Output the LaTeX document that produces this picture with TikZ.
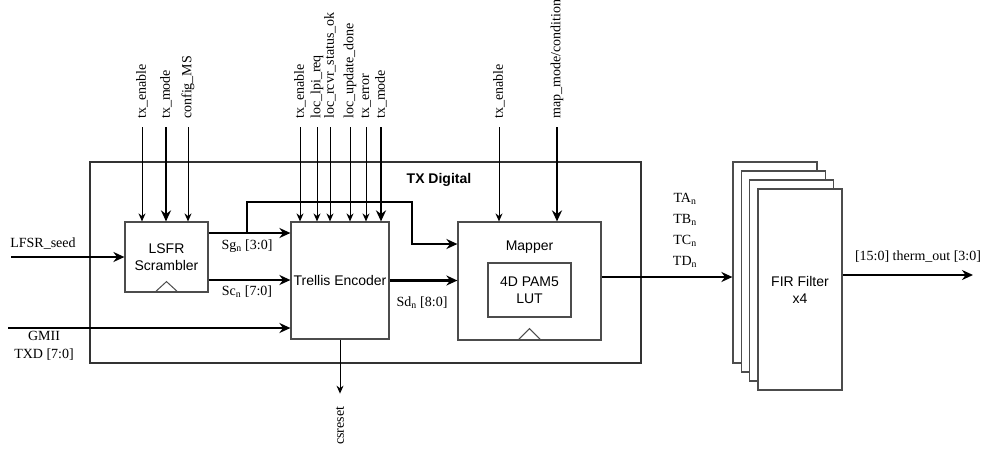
\documentclass[tikz,border=0pt]{standalone}
\usepackage{fontspec}
\setmainfont{Liberation Serif}
\setsansfont{Liberation Sans}
\usepackage{tikz}
\usetikzlibrary{arrows.meta,positioning,calc}

\begin{document}
\begin{tikzpicture}[
    x=1pt, y=1pt,
    blk/.style={rectangle, draw=black!70, line width=1.2pt, fill=white, align=center, inner sep=0pt, font=\sffamily\fontsize{14}{17}\selectfont},
    firbox/.style={blk, minimum width=84pt, minimum height=201pt},
    sig/.style={inner sep=0pt, align=center, font=\fontsize{14}{18}\selectfont},
    clk/.style={draw=black!70, line width=1pt},
    wire/.style={-{Stealth[length=8pt, width=7pt]}, line width=1pt},
    bus/.style={-{Stealth[length=11pt, width=10pt]}, line width=2.2pt}
]
    \useasboundingbox (0,0) rectangle (994,-448);

    \node [draw=black!80, line width=1.2pt, minimum width=551pt, minimum height=201pt] (txdig) at (365.5,-262.5) {};
    \node [font=\sffamily\bfseries\fontsize{14}{17}\selectfont] (txlbl) at (439,-180) {TX Digital};

    \node [blk, minimum width=83pt, minimum height=70pt] (lsfr) at (166.5,-257) {LSFR\\Scrambler};
    \node [blk, minimum width=98pt, minimum height=117pt] (trellis) at (340,-280.5) {Trellis Encoder};
    \node [blk, minimum width=143pt, minimum height=118pt] (mapper) at (529.5,-281) {};
    \node [font=\sffamily\fontsize{14}{17}\selectfont] (maptxt) at (529.5,-247) {Mapper};
    \node [blk, minimum width=83pt, minimum height=54pt] (lut) at (529.5,-290) {4D PAM5\\LUT};

    \foreach \i in {0,1,2}
        \node [firbox] (fir\i) at ({775+8.3*\i},{-262.5-9*\i}) {};
    \node [firbox] (fir) at (800,-289.5) {FIR Filter\\x4};

    \draw [clk] ($(lsfr.south)+(-12,0)$) -- ++(12,11) -- ++(12,-11);
    \draw [clk] ($(mapper.south)+(-12,0)$) -- ++(12,12) -- ++(12,-12);

    \foreach \x/\sname/\w in {142/tx\_enable/wire, 166/tx\_mode/bus, 188/config\_MS/wire} {
        \node [sig, rotate=90, anchor=west] (top\x) at (\x,-119) {\sname};
        \draw [\w] ([yshift=-8pt]top\x.west) -- (top\x.west |- lsfr.north);
    }
    \foreach \x/\sname/\w in {300/tx\_enable/wire, 317/loc\_lpi\_req/wire, 330/loc\_rcvr\_status\_ok/wire, 350/loc\_update\_done/wire, 366/tx\_error/wire, 381/tx\_mode/bus} {
        \node [sig, rotate=90, anchor=west] (top\x) at (\x,-119) {\sname};
        \draw [\w] ([yshift=-8pt]top\x.west) -- (top\x.west |- trellis.north);
    }
    \node [sig, rotate=90, anchor=west] (mapen) at (499,-119) {tx\_enable};
    \node [sig, rotate=90, anchor=west] (mapmode) at (557,-119) {map\_mode/condition};
    \draw [wire] ([yshift=-8pt]mapen.west) -- (mapen.west |- mapper.north);
    \draw [bus] ([yshift=-8pt]mapmode.west) -- (mapmode.west |- mapper.north);

    \coordinate (seed) at (11,-257);
    \node [sig] (seedlbl) at (43,-244) {LFSR\_seed};
    \draw [bus] (seed) -- (lsfr.west);

    \coordinate (gmii) at (8,-328);
    \node [sig] (gmiilbl) at (44,-346) {GMII\\TXD [7:0]};
    \draw [bus] (gmii) -- (gmii -| trellis.west);

    \coordinate (sgtap) at (247,-233);
    \coordinate (sgbend) at (412,-202);
    \draw [bus] (lsfr.east |- sgtap) -- (sgtap -| trellis.west);
    \draw [bus] (sgtap) |- (sgbend) |- ([yshift=37pt]mapper.west);
    \node [sig] (sglbl) at (247,-246) {Sg\textsubscript{n} [3:0]};

    \draw [bus] ([yshift=-23pt]lsfr.east) -- ([yshift=-23pt]lsfr.east -| trellis.west);
    \node [sig] (sclbl) at (247,-292) {Sc\textsubscript{n} [7:0]};

    \draw [bus] (trellis.east) -- (trellis.east -| mapper.west);
    \node [sig] (sdlbl) at (422,-303) {Sd\textsubscript{n} [8:0]};

    \draw [wire] (trellis.south) -- ++(0,-54) coordinate (csr);
    \node [sig, rotate=90, anchor=east] (csrlbl) at ([yshift=-13pt]csr) {csreset};

    \draw [bus] ([yshift=4pt]mapper.east) -- ([yshift=4pt]mapper.east -| fir0.west);
    \node [sig, font=\fontsize{14}{21}\selectfont] (tlbl) at (685,-230) {TA\textsubscript{n}\\TB\textsubscript{n}\\TC\textsubscript{n}\\TD\textsubscript{n}};

    \coordinate (thermout) at (973,-275);
    \draw [bus] (thermout -| fir.east) -- (thermout);
    \node [sig] (thermlbl) at (918,-257) {[15:0] therm\_out [3:0]};
\end{tikzpicture}
\end{document}
